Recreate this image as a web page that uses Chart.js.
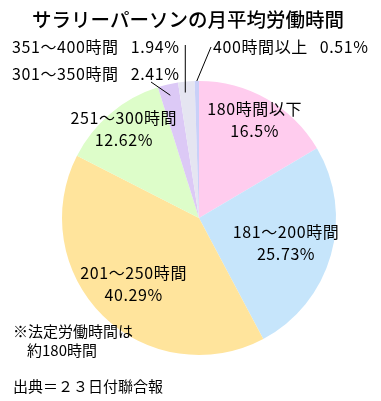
<!DOCTYPE html>
<html><head><meta charset="utf-8">
<script src="https://cdn.jsdelivr.net/npm/chart.js@4"></script>
<style>html,body{margin:0;padding:0;background:#fff}#wrap{width:381px;height:401px;position:relative}</style>
</head><body><div id="wrap"><canvas id="c" width="381" height="401"></canvas></div>
<script>
const TITLE = 'サラリーパーソンの月平均労働時間';
const categories = ['180時間以下','181〜200時間','201〜250時間','251〜300時間','301〜350時間','351〜400時間','400時間以上'];
const values = [16.5, 25.73, 40.29, 12.62, 2.41, 1.94, 0.51];
const valueLabels = ['16.5%','25.73%','40.29%','12.62%','2.41%','1.94%','0.51%'];
const colors = ['#FFCCEE','#C6E5FB','#FFE49C','#DDFDC9','#DCC9F6','#E5E5F1','#C9D0F8'];
const NOTE = ['※法定労働時間は','約180時間'];
const SOURCE = '出典＝２３日付聯合報';
const FONT = '"Noto Sans CJK JP", "Noto Sans", sans-serif';

// inside label radial fraction (index -> fraction)
const insideFrac = {0:0.82, 1:0.66, 2:0.68, 3:0.85};
// outside labels
const outside = {
  4: {x:12, y:74, lx:151, ly:82, frac:0.92},
  5: {x:12, y:47, lx:186, ly:45, frac:0.92, vertical:true},
  6: {x:213, y:47, lx:211, ly:47, frac:1.0}
};

const textPlugin = {
  id:'texts',
  afterDraw(chart){
    const ctx = chart.ctx;
    const meta = chart.getDatasetMeta(0);
    ctx.save();
    ctx.fillStyle = '#000';
    ctx.textBaseline = 'middle';
    ctx.font = '500 19.5px ' + FONT;
    ctx.textAlign = 'center';
    ctx.fillText(TITLE, 188, 20);
    ctx.font = '16px ' + FONT;
    ctx.letterSpacing = '0.6px';
    meta.data.forEach((arc, i) => {
      const p = arc.getProps(['x','y','startAngle','endAngle','outerRadius'], true);
      const mid = (p.startAngle + p.endAngle)/2;
      if (insideFrac[i] !== undefined) {
        const r = p.outerRadius * insideFrac[i];
        const cx = p.x + Math.cos(mid)*r, cy = p.y + Math.sin(mid)*r;
        ctx.textAlign = 'center';
        ctx.fillText(categories[i], cx, cy - 11);
        ctx.fillText(valueLabels[i], cx, cy + 11);
      } else if (outside[i]) {
        const o = outside[i];
        ctx.textAlign = 'left';
        ctx.fillText(categories[i], o.x, o.y);
        const w = ctx.measureText(categories[i]).width;
        ctx.fillText(valueLabels[i], o.x + w + 12, o.y);
        const r = p.outerRadius * o.frac;
        const ex = p.x + Math.cos(mid)*r, ey = p.y + Math.sin(mid)*r;
        ctx.beginPath();
        ctx.strokeStyle = '#000';
        ctx.lineWidth = 1;
        ctx.moveTo(o.vertical ? ex - 2 : o.lx, o.ly);
        ctx.lineTo(o.vertical ? ex - 2 : ex, ey);
        ctx.stroke();
      }
    });
    ctx.textAlign = 'left';
    ctx.letterSpacing = '0px';
    ctx.font = '15px ' + FONT;
    ctx.fillText(NOTE[0], 13, 331);
    ctx.fillText(NOTE[1], 27, 350);
    ctx.fillText(SOURCE, 13, 386);
    ctx.restore();
  }
};

new Chart(document.getElementById('c'), {
  type:'pie',
  data:{labels:categories, datasets:[{data:values, backgroundColor:colors, borderWidth:0}]},
  options:{
    responsive:false, animation:false,
    layout:{padding:{left:62,right:45,top:81,bottom:46}},
    plugins:{legend:{display:false}, tooltip:{enabled:false}, title:{display:false}}
  },
  plugins:[textPlugin]
});
</script></body></html>
